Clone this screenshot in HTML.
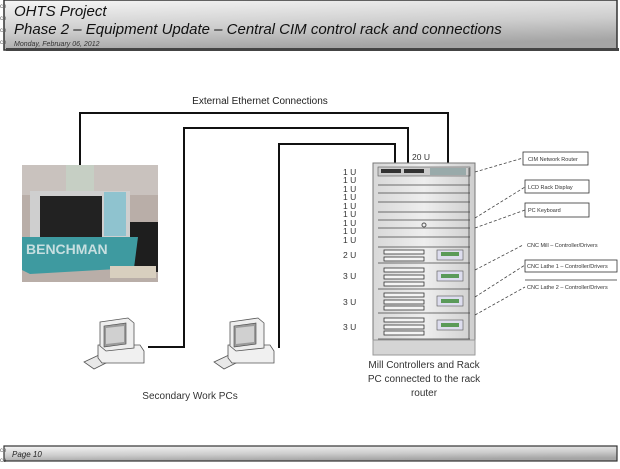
<!DOCTYPE html>
<html><head><meta charset="utf-8"><style>
body{margin:0;width:620px;height:464px;background:#fff;overflow:hidden;font-family:"Liberation Sans",sans-serif}
</style></head><body>
<svg width="620" height="464" xmlns="http://www.w3.org/2000/svg" font-family="Liberation Sans, sans-serif">
<defs>
<linearGradient id="hg" x1="0" y1="0" x2="0.3" y2="1"><stop offset="0" stop-color="#f6f6f6"/><stop offset="0.6" stop-color="#cdcdcd"/><stop offset="1" stop-color="#a5a5a5"/></linearGradient>
<linearGradient id="rk" x1="0" y1="0" x2="1" y2="0"><stop offset="0" stop-color="#d8d8d8"/><stop offset="0.5" stop-color="#eeeeee"/><stop offset="1" stop-color="#cfcfcf"/></linearGradient>
<g id="pc">
<polygon points="0,44 30,30 40,36 10,51" fill="#e8e8e8" stroke="#555" stroke-width="0.8"/>
<polygon points="14,27 56,27 60,33 60,45 18,45 14,40" fill="#f0f0f0" stroke="#555" stroke-width="0.8"/>
<polygon points="16,4 44,0 50,5 50,30 22,33 16,28" fill="#eee" stroke="#555" stroke-width="0.8"/>
<polygon points="20,8 42,5 42,26 20,29" fill="#9a9a9a" stroke="#444" stroke-width="0.6"/>
<polygon points="22,10 40,8 40,24 22,26" fill="#d0d0d0"/>
</g>
</defs>
<rect x="4" y="0" width="613" height="50" fill="url(#hg)" stroke="#333" stroke-width="1.5"/>
<rect x="6" y="48" width="613" height="3" fill="#444"/>
<text x="14" y="16" font-size="15" font-style="italic" fill="#111">OHTS Project</text>
<text x="14" y="34" font-size="15" font-style="italic" fill="#111">Phase 2 – Equipment Update – Central CIM control rack and connections</text>
<text x="14" y="46" font-size="7" font-style="italic" fill="#333">Monday, February 06, 2012</text>
<text x="0" y="8" font-size="6" fill="#555">ce</text><text x="0" y="20" font-size="6" fill="#555">ce</text><text x="0" y="32" font-size="6" fill="#555">ce</text><text x="0" y="44" font-size="6" fill="#555">ce</text>

<rect x="4" y="446" width="613" height="15" fill="url(#hg)" stroke="#333" stroke-width="1.2"/>
<text x="12" y="457" font-size="8" font-style="italic" fill="#222">Page 10</text>
<text x="0" y="452" font-size="6" fill="#555">ce</text><text x="0" y="462" font-size="6" fill="#555">ce</text>

<text x="260" y="104" font-size="10" text-anchor="middle" fill="#222">External Ethernet Connections</text>
<g fill="none" stroke="#111" stroke-width="2">
<polyline points="80,165 80,113 448,113 448,165"/>
<polyline points="148,347 184,347 184,128 408,128 408,165"/>
<polyline points="278,347 279,347 279,144 395,144 395,165"/>
</g>

<rect x="22" y="165" width="136" height="117" fill="#b9aea8"/>
<rect x="22" y="165" width="136" height="30" fill="#c9c2be"/>
<rect x="66" y="165" width="28" height="30" fill="#c6cfc4"/>
<rect x="30" y="191" width="100" height="55" fill="#cfcfcf"/>
<rect x="40" y="196" width="62" height="46" fill="#222"/>
<rect x="104" y="192" width="22" height="44" fill="#8fc3cf"/>
<rect x="130" y="222" width="28" height="50" fill="#1e1e1e"/>
<polygon points="22,237 138,237 134,268 30,274 22,270" fill="#3e9aa0"/>
<text x="26" y="254" font-size="14" font-weight="bold" fill="#c7dfe0">BENCHMAN</text>
<rect x="110" y="266" width="46" height="12" fill="#d8cfbf"/>

<use href="#pc" x="84" y="318"/>
<use href="#pc" x="214" y="318"/>
<text x="190" y="399" font-size="10" text-anchor="middle" fill="#333">Secondary Work PCs</text>

<rect x="373" y="163" width="102" height="192" fill="url(#rk)" stroke="#777"/>
<rect x="373" y="340" width="102" height="15" fill="#d5d5d5" stroke="#999"/>
<rect x="378" y="167" width="92" height="9" fill="#ccc" stroke="#555" stroke-width="0.6"/>
<rect x="381" y="169" width="20" height="4" fill="#333"/><rect x="404" y="169" width="20" height="4" fill="#333"/>
<rect x="430" y="168" width="36" height="7" fill="#9aa" />
<g stroke="#444" stroke-width="0.8">
<line x1="378" y1="185" x2="470" y2="185"/><line x1="378" y1="193" x2="470" y2="193"/><line x1="378" y1="202" x2="470" y2="202"/><line x1="378" y1="212" x2="470" y2="212"/><line x1="378" y1="220" x2="470" y2="220"/><line x1="378" y1="228" x2="470" y2="228"/><line x1="378" y1="237" x2="470" y2="237"/><line x1="378" y1="247" x2="470" y2="247"/><line x1="378" y1="263" x2="470" y2="263"/><line x1="378" y1="289" x2="470" y2="289"/><line x1="378" y1="313" x2="470" y2="313"/><line x1="378" y1="339" x2="470" y2="339"/>
<line x1="469" y1="168" x2="469" y2="339"/>
</g>
<circle cx="424" cy="225" r="2" fill="none" stroke="#555"/>
<g fill="#f4f4f4" stroke="#333" stroke-width="0.8">
<rect x="384" y="250" width="40" height="4"/><rect x="384" y="257" width="40" height="4"/>
<rect x="384" y="268" width="40" height="4"/><rect x="384" y="275" width="40" height="4"/><rect x="384" y="282" width="40" height="4"/>
<rect x="384" y="293" width="40" height="4"/><rect x="384" y="300" width="40" height="4"/><rect x="384" y="306" width="40" height="4"/>
<rect x="384" y="318" width="40" height="4"/><rect x="384" y="325" width="40" height="4"/><rect x="384" y="331" width="40" height="4"/>
</g>
<g fill="#dde" stroke="#555" stroke-width="0.6">
<rect x="437" y="250" width="26" height="10"/><rect x="437" y="271" width="26" height="10"/><rect x="437" y="296" width="26" height="10"/><rect x="437" y="320" width="26" height="10"/>
</g>
<g fill="#5a9a5a"><rect x="441" y="252" width="18" height="4"/><rect x="441" y="274" width="18" height="4"/><rect x="441" y="299" width="18" height="4"/><rect x="441" y="323" width="18" height="4"/></g>

<g font-size="8.5" fill="#333">
<text x="343" y="175">1 U</text><text x="343" y="183">1 U</text><text x="343" y="192">1 U</text><text x="343" y="200">1 U</text><text x="343" y="209">1 U</text><text x="343" y="217">1 U</text><text x="343" y="226">1 U</text><text x="343" y="234">1 U</text><text x="343" y="243">1 U</text>
<text x="343" y="258">2 U</text><text x="343" y="279">3 U</text><text x="343" y="305">3 U</text><text x="343" y="330">3 U</text>
<text x="412" y="160">20 U</text>
</g>
<g font-size="10" fill="#333" text-anchor="middle">
<text x="424" y="368">Mill Controllers and Rack</text>
<text x="424" y="382">PC connected to the rack</text>
<text x="424" y="396">router</text>
</g>

<g fill="none" stroke="#444" stroke-width="0.8" stroke-dasharray="3,2">
<line x1="475" y1="172" x2="523" y2="158"/><line x1="475" y1="218" x2="525" y2="187"/><line x1="475" y1="228" x2="525" y2="210"/><line x1="475" y1="270" x2="523" y2="245"/><line x1="475" y1="297" x2="525" y2="265"/><line x1="475" y1="315" x2="525" y2="287"/>
</g>
<g fill="#fff" stroke="#333" stroke-width="0.8">
<rect x="523" y="152" width="65" height="13"/><rect x="525" y="180" width="64" height="13"/><rect x="525" y="203" width="64" height="14"/><rect x="525" y="260" width="92" height="12"/>
</g>
<line x1="525" y1="280" x2="617" y2="280" stroke="#333" stroke-width="0.8"/>
<g font-size="5.5" fill="#333">
<text x="528" y="161">CIM Network Router</text><text x="528" y="189">LCD Rack Display</text><text x="528" y="212">PC Keyboard</text>
<text x="527" y="247">CNC Mill – Controller/Drivers</text><text x="527" y="268">CNC Lathe 1 – Controller/Drivers</text><text x="527" y="289">CNC Lathe 2 – Controller/Drivers</text>
</g>
</svg>
</body></html>
